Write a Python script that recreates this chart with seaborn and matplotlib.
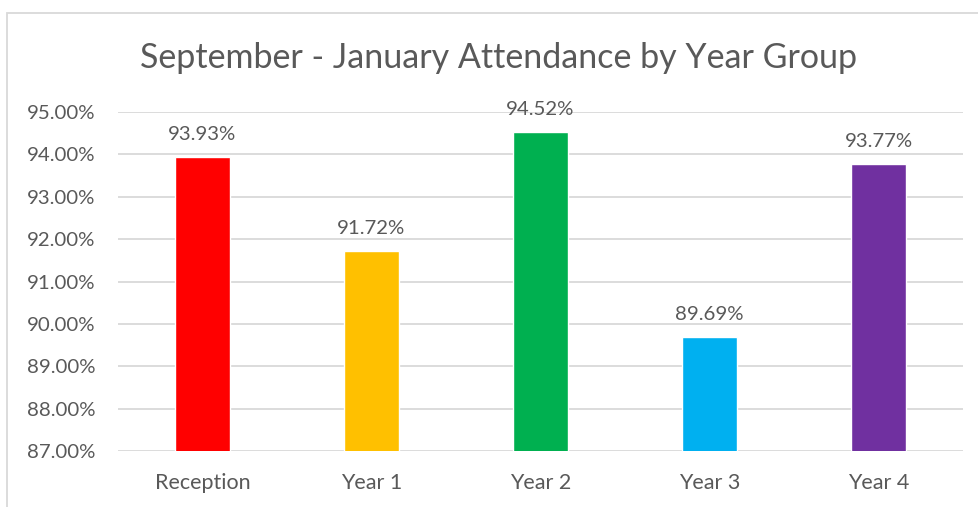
import pandas as pd
import numpy as np
import matplotlib
matplotlib.use("Agg")
import matplotlib.pyplot as plt
import seaborn as sns
from matplotlib.ticker import FuncFormatter
from matplotlib.patches import Rectangle

# --- Data
groups = ["Reception", "Year 1", "Year 2", "Year 3", "Year 4"]
attendance = [93.93, 91.72, 94.52, 89.69, 93.77]
bar_colors = ["#FF0000", "#FFC000", "#00B050", "#00B0F0", "#7030A0"]

df = pd.DataFrame({"group": groups, "attendance": attendance})

sns.set_style("white")
plt.rcParams["font.family"] = ["Lato", "DejaVu Sans"]
text_col = "#595959"

fig = plt.figure(figsize=(9.79, 5.07), dpi=100)
ax = fig.add_axes([0.1205, 0.1105, 0.8632, 0.6685])

sns.barplot(data=df, x="group", y="attendance", hue="group", palette=bar_colors,
            width=0.32, legend=False, ax=ax, saturation=1)

ax.set_ylim(87, 95)
ax.set_xlim(-0.5, 4.5)
ax.set_yticks(np.arange(87, 95.5, 1))
ax.yaxis.set_major_formatter(FuncFormatter(lambda v, p: f"{v:.2f}%"))
ax.grid(axis="y", color="#D9D9D9", linewidth=1.3)
ax.set_axisbelow(True)
for s in ax.spines.values():
    s.set_visible(False)
ax.tick_params(axis="y", length=0, labelsize=14.7, colors=text_col, pad=16.5)
ax.tick_params(axis="x", length=0, labelsize=15.5, colors=text_col, pad=16)
ax.set_xlabel("")
ax.set_ylabel("")

# data labels
for i, v in enumerate(attendance):
    ax.annotate(f"{v:.2f}%", (i, v), xytext=(0, 10), textcoords="offset points",
                ha="center", va="bottom", fontsize=14.7, color=text_col)

fig.text(0.5097, 0.885, "September - January Attendance by Year Group",
         ha="center", va="center", fontsize=24.5, color=text_col)

# chart area border
fig.patches.append(Rectangle((7 / 979, -0.1), 1.2, 1 - 13 / 507 + 0.1,
                             transform=fig.transFigure, fill=False,
                             edgecolor="#D9D9D9", linewidth=1.3))

fig.savefig("out.png", dpi=100)
